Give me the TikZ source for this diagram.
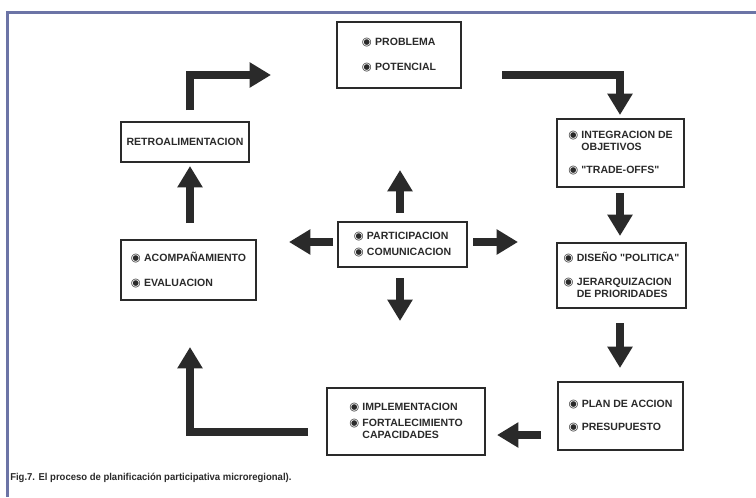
\documentclass[tikz,border=0pt]{standalone}
\usepackage{fontspec}
\setmainfont{Liberation Sans}[Ligatures=TeXOff]
\newfontfamily\bulfont{DejaVu Sans}
\newfontfamily\capfont[FakeStretch=0.95]{Liberation Sans}
\usetikzlibrary{arrows.meta}
\definecolor{ink}{HTML}{2A2A2A}
\definecolor{frame}{HTML}{6C74A6}
\newcommand{\bul}{{\bulfont\fontsize{8.5}{9}\selectfont ◉}\hspace{2.5pt}}
\newcommand{\ind}{\phantom{\bul}}
\tikzset{
  box/.style={draw=ink, line width=1.4pt, fill=white, text=ink, align=left,
    font=\bfseries\fontsize{7.9}{9}\selectfont, inner sep=2pt},
  arr/.style={draw=ink, line width=5.4pt, line join=miter,
    -{Triangle[width=18pt,length=16pt]}},
}
\begin{document}
\begin{tikzpicture}[x=0.75pt,y=-0.75pt]
\useasboundingbox (0,0) rectangle (756,497);
\fill[white] (0,0) rectangle (756,497);
% frame
\draw[frame, line width=2pt] (7.5,497) -- (7.5,12.5) -- (756,12.5);

% boxes
\node[box, minimum width=124*0.75pt, minimum height=66*0.75pt] (prob) at (399,55)
  {\bul PROBLEMA\\[10pt]\bul POTENCIAL};
\node[box, minimum width=127*0.75pt, minimum height=68*0.75pt] (integ) at (620.5,153)
  {\bul INTEGRACION DE\\\ind OBJETIVOS\\[8.5pt]\bul "TRADE-OFFS"};
\node[box, minimum width=129*0.75pt, minimum height=65*0.75pt] (dis) at (621.5,275.5)
  {\bul DISEÑO "POLITICA"\\[9pt]\bul JERARQUIZACION\\\ind DE PRIORIDADES};
\node[box, minimum width=125*0.75pt, minimum height=68*0.75pt] (plan) at (620.5,416)
  {\bul PLAN DE ACCION\\[8pt]\bul PRESUPUESTO};
\node[box, minimum width=158*0.75pt, minimum height=67*0.75pt] (impl) at (406,421.5)
  {\bul IMPLEMENTACION\\[2.5pt]\bul FORTALECIMIENTO\\\ind CAPACIDADES};
\node[box, minimum width=135*0.75pt, minimum height=60*0.75pt] (acomp) at (188.5,270)
  {\bul ACOMPAÑAMIENTO\\[10pt]\bul EVALUACION};
\node[box, minimum width=128*0.75pt, minimum height=40*0.75pt] (retro) at (185,142)
  {RETROALIMENTACION};
\node[box, minimum width=129*0.75pt, minimum height=45*0.75pt] (part) at (402.5,244.5)
  {\bul PARTICIPACION\\[2.5pt]\bul COMUNICACION};

% arrow end points
\coordinate (rs) at (190,110);
\coordinate (rc) at (190,75);
\coordinate (re) at (271,75);
\coordinate (ps) at (502,75);
\coordinate (pc) at (620,75);
\coordinate (pe) at (620,115);
\coordinate (is) at (620,193);
\coordinate (ie) at (620,236);
\coordinate (ds) at (620,323);
\coordinate (de) at (620,368);
\coordinate (ls) at (541,435);
\coordinate (le) at (497,435);
\coordinate (ms) at (308,432);
\coordinate (mc) at (190,432);
\coordinate (me) at (190,347);
\coordinate (as) at (190,223);
\coordinate (ae) at (190,166);
\coordinate (cu1) at (400,213);
\coordinate (cu2) at (400,170);
\coordinate (cl1) at (333,242);
\coordinate (cl2) at (289,242);
\coordinate (cr1) at (473,242);
\coordinate (cr2) at (518,242);
\coordinate (cd1) at (400,278);
\coordinate (cd2) at (400,321);

\draw[arr] (rs) -- (rc) -- (re);
\draw[arr] (ps) -- (pc) -- (pe);
\draw[arr] (is) -- (ie);
\draw[arr] (ds) -- (de);
\draw[arr] (ls) -- (le);
\draw[arr] (ms) -- (mc) -- (me);
\draw[arr] (as) -- (ae);
\draw[arr] (cu1) -- (cu2);
\draw[arr] (cl1) -- (cl2);
\draw[arr] (cr1) -- (cr2);
\draw[arr] (cd1) -- (cd2);

% caption
\node[anchor=west, text=ink, inner sep=0pt, font=\capfont\bfseries\fontsize{7.5}{8}\selectfont] (cap) at (10,478)
  {Fig.7. El proceso de planificación participativa microregional).};
\end{tikzpicture}
\end{document}
